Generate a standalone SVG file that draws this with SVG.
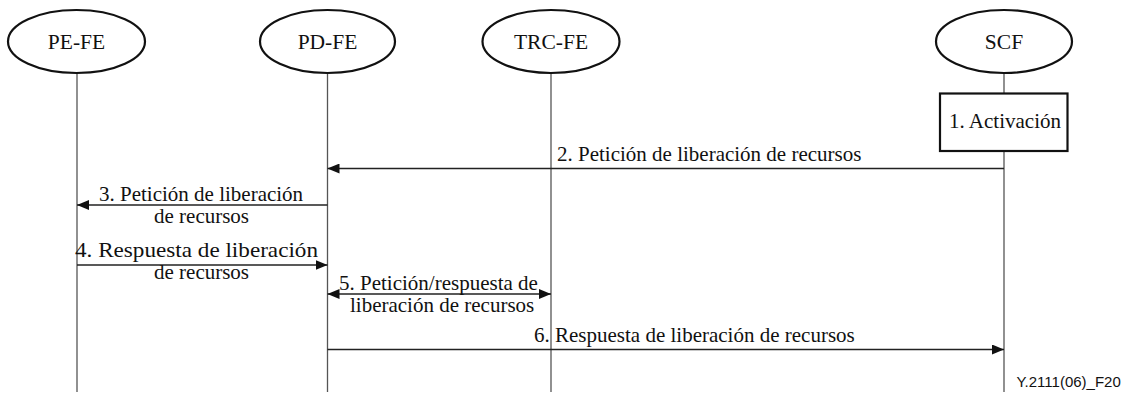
<svg xmlns="http://www.w3.org/2000/svg" width="1134" height="396" viewBox="0 0 1134 396">
<style>
.ent{fill:#fff;stroke:#111;stroke-width:2.2}
.life{stroke:#555;stroke-width:1.3;fill:none}
.msg{stroke:#222;stroke-width:1.3;fill:none}
.t{font-family:"Liberation Serif","Times New Roman",serif;font-size:21px;fill:#111}
.lbl{font-family:"Liberation Serif","Times New Roman",serif;font-size:21.5px;fill:#111;text-anchor:middle}
.foot{font-family:"Liberation Sans",Arial,sans-serif;font-size:15px;fill:#111}
</style>
<defs>
<marker id="ah" viewBox="0 0 12 10" refX="12" refY="5" markerWidth="12" markerHeight="10" markerUnits="userSpaceOnUse" orient="auto-start-reverse">
<path d="M0,0 L12,5 L0,10 Z" fill="#111"/>
</marker>
</defs>
<g id="lifelines">
<line class="life" x1="77" y1="73" x2="77" y2="392"/>
<line class="life" x1="327.5" y1="73" x2="327.5" y2="392"/>
<line class="life" x1="551" y1="73" x2="551" y2="392"/>
<line class="life" x1="1004" y1="73" x2="1004" y2="392"/>
</g>
<g id="pe-fe">
<ellipse class="ent" cx="76.5" cy="41.5" rx="68.5" ry="31.5"/>
<text class="lbl" x="76.5" y="48.5">PE-FE</text>
</g>
<g id="pd-fe">
<ellipse class="ent" cx="327.5" cy="41.5" rx="67.5" ry="31.5"/>
<text class="lbl" x="327.5" y="48.5">PD-FE</text>
</g>
<g id="trc-fe">
<ellipse class="ent" cx="551" cy="41.5" rx="68.5" ry="31.5"/>
<text class="lbl" x="551" y="48.5">TRC-FE</text>
</g>
<g id="scf">
<ellipse class="ent" cx="1004" cy="41.5" rx="68" ry="31.5"/>
<text class="lbl" x="1004" y="48.5">SCF</text>
</g>
<g id="activacion">
<rect class="ent" x="940" y="93.5" width="127.5" height="57.5" stroke-width="2.5"/>
<text class="t" x="949" y="128">1. Activación</text>
</g>
<g id="connectors">
<line class="msg" x1="1004" y1="168.5" x2="327.5" y2="168.5" marker-end="url(#ah)"/>
<line class="msg" x1="327.5" y1="205" x2="77" y2="205" marker-end="url(#ah)"/>
<line class="msg" x1="77" y1="265" x2="327.5" y2="265" marker-end="url(#ah)"/>
<line class="msg" x1="327.5" y1="294" x2="551" y2="294" marker-start="url(#ah)" marker-end="url(#ah)"/>
<line class="msg" x1="327.5" y1="349.5" x2="1004" y2="349.5" marker-end="url(#ah)"/>
</g>
<g id="labels">
<text class="t" x="557" y="160.5">2. Petición de liberación de recursos</text>
<text class="t" x="99" y="200.5">3. Petición de liberación</text>
<text class="t" x="154" y="223">de recursos</text>
<text class="t" x="75" y="257" textLength="243" lengthAdjust="spacingAndGlyphs">4. Respuesta de liberación</text>
<text class="t" x="154" y="279">de recursos</text>
<text class="t" x="339" y="289.5">5. Petición/respuesta de</text>
<text class="t" x="350" y="312">liberación de recursos</text>
<text class="t" x="534" y="342">6. Respuesta de liberación de recursos</text>
<text class="foot" x="1016.5" y="386.5">Y.2111(06)_F20</text>
</g>
</svg>
